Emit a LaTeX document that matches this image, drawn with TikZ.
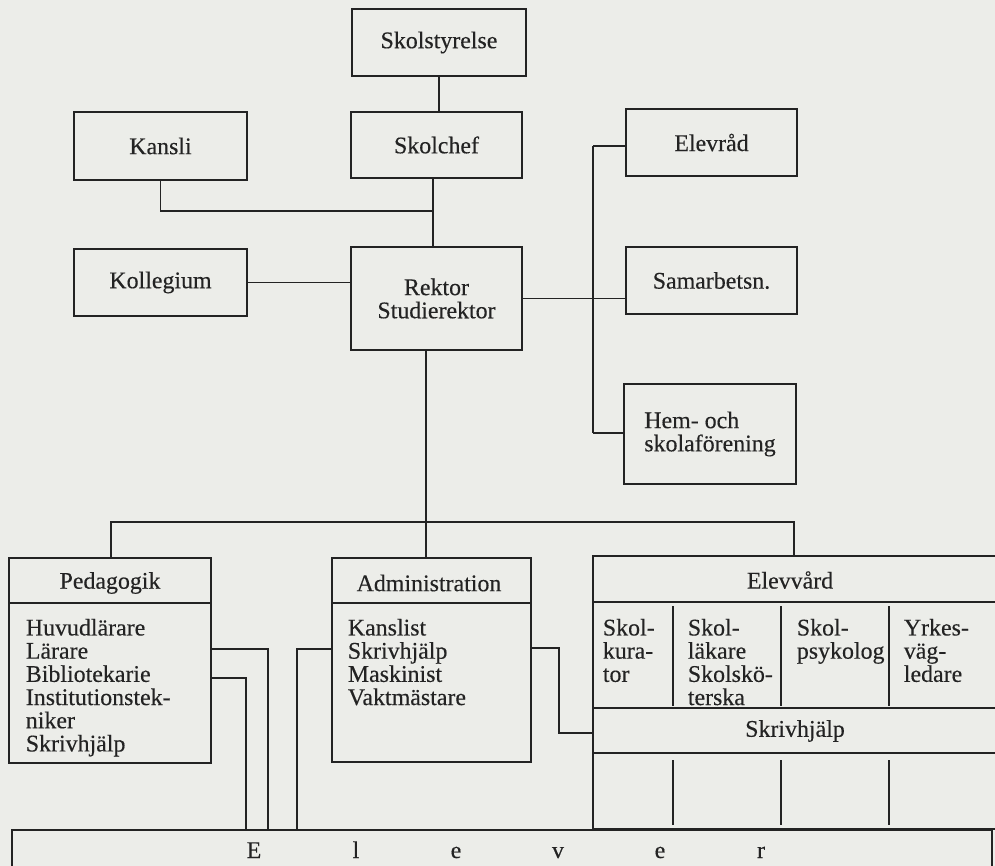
\documentclass[tikz,border=0pt]{standalone}
\usepackage{fontspec}
\setmainfont{Liberation Serif}[FakeBold=0.3]
\usepackage{tikz}

\definecolor{paper}{RGB}{236,237,233}
\definecolor{ink}{RGB}{35,35,35}

\begin{document}
\begin{tikzpicture}[x=0.02cm, y=-0.02cm, font=\fontsize{13.6}{13.2}\selectfont,
    color=ink, line width=1pt,
    box/.style={draw=ink, line width=1pt, inner sep=0pt, align=center, text=ink},
    txt/.style={inner sep=0pt, align=left, text=ink},
    col/.style={txt, anchor=north west}]
        \fill[paper] (0,0) rectangle (995,866);
        \clip (0,0) rectangle (995,866);

        % upper part
        \node[box, minimum width=3.48cm, minimum height=1.34cm] (sty) at (439,42.5) {Skolstyrelse};
        \node[box, minimum width=3.42cm, minimum height=1.32cm] (chef) at (436.5,145) {Skolchef};
        \node[box, minimum width=3.46cm, minimum height=1.36cm] (kansli) at (160.5,146) {Kansli};
        \node[box, minimum width=3.46cm, minimum height=1.34cm] (koll) at (160.5,282.5) {Kollegium};
        \node[box, minimum width=3.42cm, minimum height=2.06cm] (rek) at (436.5,298.5) {Rektor\\Studierektor};
        \node[box, minimum width=3.42cm, minimum height=1.34cm] (elevrad) at (711.5,142.5) {Elevråd};
        \node[box, minimum width=3.42cm, minimum height=1.34cm] (samar) at (711.5,280.5) {Samarbetsn.};
        \node[box, minimum width=3.44cm, minimum height=2.0cm, align=left] (hem) at (710,434) {Hem- och\\skolaförening};

        \coordinate (k1) at (433,211);
        \coordinate (busT) at (593,146);
        \coordinate (busB) at (593,433);

        \draw (sty.south) -- (sty.south |- chef.north);
        \draw (chef.south -| k1) -- (rek.north -| k1);
        \draw (kansli.south) -- (kansli.south |- k1) -- (k1);
        \draw (koll.east) -- (koll.east -| rek.west);
        \draw (rek.east) -- (rek.east -| samar.west);
        \draw (busT) -- (busB);
        \draw (busT) -- (busT -| elevrad.west);
        \draw (busB) -- (busB -| hem.west);

        % lower part
        \node[box, minimum width=4.04cm, minimum height=4.1cm] (ped) at (110,660.5) {};
        \node[txt] (pedT) at (110,583) {Pedagogik};
        \node[col] (pedL) at (25,618) {Huvudlärare\\Lärare\\Bibliotekarie\\Institutionstek-\\niker\\Skrivhjälp};

        \node[box, minimum width=3.98cm, minimum height=4.08cm] (adm) at (431.5,660) {};
        \node[txt] (admT) at (429,583) {Administration};
        \node[col] (admL) at (347,618) {Kanslist\\Skrivhjälp\\Maskinist\\Vaktmästare};

        \node[box, minimum width=8.4cm, minimum height=5.46cm] (elv) at (803,692.5) {};
        \node[txt] (elvT) at (790,580) {Elevvård};
        \node[col] (c1) at (602,618) {Skol-\\kura-\\tor};
        \node[col] (c2) at (687,618) {Skol-\\läkare\\Skolskö-\\terska};
        \node[col] (c3) at (796,618) {Skol-\\psykolog};
        \node[col] (c4) at (903,618) {Yrkes-\\väg-\\ledare};
        \node[txt] (elvS) at (795,731) {Skrivhjälp};

        \node[box, minimum width=19.6cm, minimum height=1.2cm] (elever) at (502,860) {};
        \foreach \l/\x [count=\i] in {E/254,l/356,e/456,v/558,e/660,r/761}
            \node[txt, anchor=base] (el\i) at (\x,858) {\l};

        % separators
        \coordinate (s1) at (0,603);
        \coordinate (s2) at (0,602);
        \coordinate (s3) at (0,708);
        \coordinate (s4) at (0,753);
        \draw (ped.west |- s1) -- (ped.east |- s1);
        \draw (adm.west |- s1) -- (adm.east |- s1);
        \draw (elv.west |- s2) -- (elv.east |- s2);
        \draw (elv.west |- s3) -- (elv.east |- s3);
        \draw (elv.west |- s4) -- (elv.east |- s4);
        \foreach \x in {673,781,889} {
            \draw (\x,606) -- (\x,706);
            \draw (\x,760) -- (\x,825);
        }

        % connectors
        \coordinate (r2) at (426,0);
        \coordinate (h1) at (111,522);
        \coordinate (h2) at (794,522);
        \draw (rek.south -| r2) -- (adm.north -| r2);
        \draw (ped.north -| h1) -- (h1) -- (h2) -- (elv.north -| h2);

        \coordinate (e1) at (268,649);
        \coordinate (e2) at (246,678);
        \coordinate (e3) at (297,649);
        \coordinate (e4) at (559,648);
        \coordinate (e5) at (559,733);
        \draw (ped.east |- e1) -- (e1) -- (e1 |- elever.north);
        \draw (ped.east |- e2) -- (e2) -- (e2 |- elever.north);
        \draw (adm.west |- e3) -- (e3) -- (e3 |- elever.north);
        \draw (adm.east |- e4) -- (e4) -- (e5) -- (e5 -| elv.west);
    \end{tikzpicture}
\end{document}
